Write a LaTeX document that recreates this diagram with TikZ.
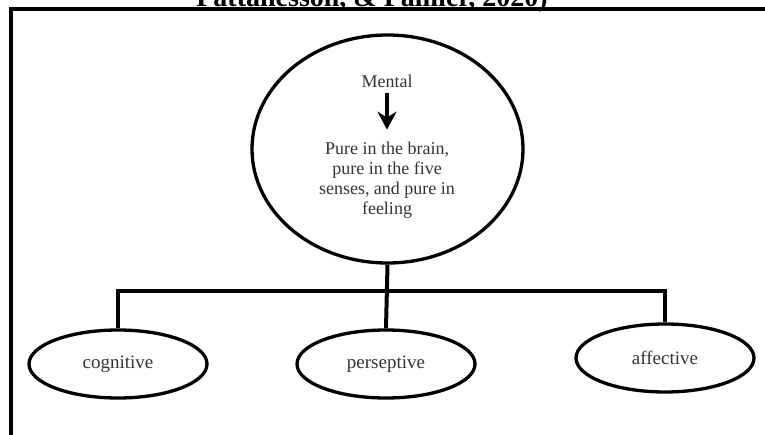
\documentclass[tikz,border=0pt]{standalone}
\usepackage{fontspec}
\setmainfont{Liberation Serif}
\usetikzlibrary{arrows.meta,positioning,shapes.geometric}

\begin{document}
\begin{tikzpicture}[
  x=1pt, y=-1pt,
  font=\fontsize{18}{20}\selectfont,
  ell/.style={draw, ellipse, line width=3.3pt, inner sep=0pt},
  bigell/.style={ell, minimum width=271pt, minimum height=228pt},
  smallell/.style={ell, minimum width=178pt, minimum height=68pt, text=black!80, font=\fontsize{19}{21}\selectfont},
  lbl/.style={text=black!80, align=center, inner sep=3pt},
  conn/.style={line width=4pt},
  arrow/.style={-{Stealth[length=18pt,width=19pt,inset=6pt]}, line width=3.2pt},
]
\useasboundingbox (0,0) rectangle (765,434);

% cut caption and frame
\node[anchor=base, font=\bfseries\fontsize{28}{28}\selectfont] (cite) at (372,6) {Pattanesson, \& Palmer, 2020)};
\draw[line width=4pt] (10.5,440) -- (10.5,9) -- (770,9);

% main ellipse
\node[bigell] (mental) at (387.5,149) {};
\node[lbl] (mtitle) at (387,81) {Mental};
\node[lbl] (mtext) at (387,180) {Pure in the brain,\\pure in the five\\senses, and pure in\\feeling};
\draw[arrow, shorten <=2pt, shorten >=9pt] (mtitle) -- (mtext);

% three aspects
\node[smallell] (cog) at (118,364) {cognitive};
\node[smallell] (per) at (386,364) {perseptive};
\node[smallell] (aff) at (665,358) {affective};

\coordinate (bar) at (386,291);
\draw[conn] (mental.south) -- (per.north);
\draw[conn] (cog.north) |- (bar) -| (aff.north);
\end{tikzpicture}
\end{document}
